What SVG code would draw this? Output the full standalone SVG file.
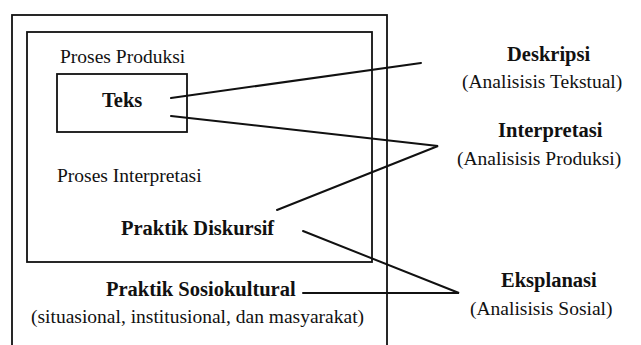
<svg xmlns="http://www.w3.org/2000/svg" width="641" height="345" viewBox="0 0 641 345">
<style>
.box{fill:none;stroke:#111;stroke-width:1.8}
.t{font-family:"Liberation Serif","Times New Roman",serif;font-size:19.5px;fill:#111}
.b{font-family:"Liberation Serif","Times New Roman",serif;font-size:20.5px;font-weight:bold;fill:#111}
.ln{stroke:#111;stroke-width:2;fill:none;stroke-linecap:round;stroke-linejoin:miter}
</style>
<rect width="641" height="345" fill="#fff"/>
<g id="sosiokultural">
<rect class="box" x="12" y="15" width="375" height="345"/>
<text class="b" x="106" y="296">Praktik Sosiokultural</text>
<text class="t" x="31" y="323">(situasional, institusional, dan masyarakat)</text>
</g>
<g id="diskursif">
<rect class="box" x="27" y="32" width="345" height="230"/>
<text class="t" x="60" y="63">Proses Produksi</text>
<text class="t" x="57" y="182">Proses Interpretasi</text>
<text class="b" x="121" y="235">Praktik Diskursif</text>
</g>
<g id="teks">
<rect class="box" x="57" y="74" width="130" height="58"/>
<text class="b" x="102" y="107">Teks</text>
</g>
<g id="deskripsi">
<text class="b" x="507" y="61">Deskripsi</text>
<text class="t" x="462" y="88">(Analisisis Tekstual)</text>
</g>
<g id="interpretasi">
<text class="b" x="498" y="137">Interpretasi</text>
<text class="t" x="457" y="165">(Analisisis Produksi)</text>
</g>
<g id="eksplanasi">
<text class="b" x="501" y="287">Eksplanasi</text>
<text class="t" x="470" y="315">(Analisisis Sosial)</text>
</g>
<g id="connectors">
<line class="ln" x1="171" y1="98" x2="421" y2="63"/>
<polyline class="ln" points="171,116 438,146 277,210"/>
<polyline class="ln" points="303,231 459,293 303,293"/>
</g>
</svg>
